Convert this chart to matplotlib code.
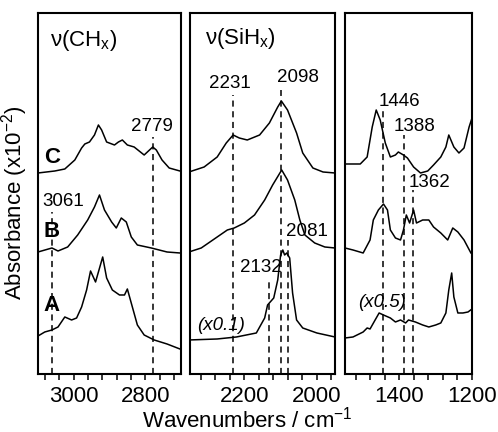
#!/usr/bin/env python
#
# IR absorbance spectra (CHx, SiHx and fingerprint regions) for samples A, B, C.
# Output: out.png

import numpy as np
import matplotlib.pyplot as plt
from matplotlib.ticker import FixedLocator, MultipleLocator

plt.rcParams['font.family'] = ['Liberation Sans', 'DejaVu Sans']
plt.rcParams['mathtext.fontset'] = 'custom'
plt.rcParams['mathtext.rm'] = 'Liberation Sans'
plt.rcParams['mathtext.it'] = 'Liberation Sans:italic'

# ---- nu(CHx) region : wavenumber / stacked absorbance (arb.)
ch_wn_C = [3100, 3053, 3025, 2997, 2978, 2969, 2956, 2942, 2931, 2922, 2908, 2886,
           2875, 2864, 2850, 2831, 2803, 2779, 2769, 2753, 2733, 2703]
ch_C = [201, 203, 205, 214, 226, 230, 232, 239, 249, 244, 232, 229,
        232, 234, 229, 227, 219, 227, 224, 214, 206, 203]
ch_wn_B = [3100, 3061, 3044, 3017, 2989, 2961, 2942, 2928, 2914, 2894, 2881, 2867,
           2853, 2839, 2822, 2783, 2739, 2703]
ch_B = [122, 126, 123, 127, 139, 154, 167, 179, 164, 152, 146, 156,
        152, 137, 129, 126, 122, 121]
ch_wn_A = [3100, 3081, 3061, 3044, 3025, 3006, 2992, 2978, 2964, 2953, 2939, 2919,
           2908, 2892, 2872, 2858, 2850, 2836, 2822, 2803, 2775, 2739, 2703]
ch_A = [38, 42, 44, 47, 57, 54, 56, 67, 84, 103, 92, 117,
        96, 84, 79, 79, 85, 67, 49, 39, 34, 30, 25]

# ---- nu(SiHx) region
si_wn_C = [2353, 2311, 2275, 2250, 2231, 2214, 2192, 2158, 2131, 2108, 2098, 2081,
           2056, 2039, 2011, 1983, 1950]
si_C = [202, 207, 217, 231, 239, 236, 234, 239, 251, 267, 273, 264,
        241, 221, 206, 202, 201]
si_wn_B = [2353, 2319, 2275, 2247, 2228, 2200, 2172, 2144, 2122, 2097, 2081, 2061,
           2047, 2033, 2006, 1978, 1950]
si_B = [122, 126, 137, 144, 146, 151, 159, 174, 189, 204, 194, 174,
        154, 139, 131, 127, 126]
si_wn_A = [2353, 2275, 2222, 2167, 2144, 2136, 2119, 2108, 2100, 2094, 2089, 2083,
           2075, 2067, 2056, 2039, 2000, 1950]
si_A = [34, 35, 37, 41, 56, 69, 76, 94, 119, 124, 119, 121,
        116, 81, 54, 46, 41, 37]

# ---- fingerprint region
fp_wn_C = [1550, 1508, 1489, 1475, 1464, 1453, 1439, 1425, 1411, 1403, 1389, 1378,
           1361, 1342, 1322, 1306, 1286, 1272, 1264, 1250, 1236, 1222, 1208, 1200]
fp_C = [210, 210, 217, 247, 264, 254, 231, 217, 219, 222, 219, 216,
        207, 201, 203, 209, 217, 227, 239, 227, 221, 226, 247, 256]
fp_wn_B = [1550, 1528, 1500, 1481, 1472, 1458, 1444, 1433, 1425, 1411, 1397, 1389,
           1381, 1372, 1361, 1353, 1336, 1319, 1306, 1286, 1267, 1253, 1239, 1222,
           1203, 1200]
fp_B = [126, 124, 121, 134, 154, 164, 170, 164, 144, 136, 134, 144,
        159, 151, 164, 151, 154, 154, 147, 141, 134, 146, 142, 134,
        121, 120]
fp_wn_A = [1550, 1528, 1500, 1489, 1481, 1467, 1456, 1444, 1425, 1411, 1397, 1383,
           1375, 1356, 1336, 1319, 1300, 1286, 1272, 1264, 1256, 1250, 1239, 1225,
           1211, 1200]
fp_A = [36, 37, 42, 46, 45, 54, 61, 59, 56, 52, 54, 51,
        54, 52, 49, 47, 49, 51, 61, 84, 101, 77, 61, 61,
        62, 65]

# ---- marked peaks: position and top of the dashed guide line
ch_peaks, ch_tops = [3061, 2779], [162, 237]
si_peaks, si_tops = [2231, 2098, 2132, 2081], [279, 284, 96, 134]
fp_peaks, fp_tops = [1446, 1388, 1362], [266, 239, 184]

FS_TICK = 16
FS_PEAK = 13.5


def style_axis(ax, xlim, majors):
	ax.set_xlim(*xlim)
	ax.set_ylim(0, 361)
	ax.xaxis.set_major_locator(FixedLocator(majors))
	ax.xaxis.set_minor_locator(MultipleLocator(40))
	ax.set_yticks([])
	ax.tick_params(axis='x', which='both', direction='out', length=4.5, width=1.1,
	               labelsize=FS_TICK, pad=4)
	for s in ax.spines.values():
		s.set_linewidth(1.5)


def draw_panel(ax, curves, peaks, tops):
	for wn, y in curves:
		ax.plot(wn, y, color='black', lw=1.1)
	for p, t in zip(peaks, tops):
		ax.vlines(p, 0, t, colors='black', linestyles=(0, (4, 3)), lw=1.1)


def main():
	fig = plt.figure(figsize=(4.98, 4.32), dpi=100)
	bottom, height = 0.1343, 0.8356
	ax1 = fig.add_axes([0.0763, bottom, 0.2871, height])
	ax2 = fig.add_axes([0.3815, bottom, 0.2912, height])
	ax3 = fig.add_axes([0.6928, bottom, 0.2550, height])

	# CHx stretching
	draw_panel(ax1, [(ch_wn_C, ch_C), (ch_wn_B, ch_B), (ch_wn_A, ch_A)], ch_peaks, ch_tops)
	style_axis(ax1, (3100, 2700), [3000, 2800])
	ax1.text(0.084, 0.925, r'ν(CH$_\mathregular{x}$)', transform=ax1.transAxes,
	         fontsize=16, ha='left', va='center')
	ax1.text(3088, 172, '3061', fontsize=FS_PEAK, ha='left', va='center')
	ax1.text(2781, 247, '2779', fontsize=FS_PEAK, ha='center', va='center')
	for lab, y in zip(['C', 'B', 'A'], [216, 142, 68]):
		ax1.text(3061, y, lab, fontsize=16, fontweight='bold', ha='center', va='center')

	# SiHx stretching
	draw_panel(ax2, [(si_wn_C, si_C), (si_wn_B, si_B), (si_wn_A, si_A)], si_peaks, si_tops)
	style_axis(ax2, (2350, 1950), [2200, 2000])
	ax2.text(0.103, 0.928, r'ν(SiH$_\mathregular{x}$)', transform=ax2.transAxes,
	         fontsize=16, ha='left', va='center')
	ax2.text(2240, 290, '2231', fontsize=FS_PEAK, ha='center', va='center')
	ax2.text(2110, 296, '2098', fontsize=FS_PEAK, ha='left', va='center')
	ax2.text(2084, 142, '2081', fontsize=FS_PEAK, ha='left', va='center')
	ax2.text(2097, 106, '2132', fontsize=FS_PEAK, ha='right', va='center')
	ax2.text(2331, 48, '(x0.1)', fontsize=FS_PEAK, style='italic', ha='left', va='center')

	# fingerprint region
	draw_panel(ax3, [(fp_wn_C, fp_C), (fp_wn_B, fp_B), (fp_wn_A, fp_A)], fp_peaks, fp_tops)
	style_axis(ax3, (1550, 1200), [1400, 1200])
	ax3.text(1458, 272, '1446', fontsize=FS_PEAK, ha='left', va='center')
	ax3.text(1417, 247, '1388', fontsize=FS_PEAK, ha='left', va='center')
	ax3.text(1375, 191, '1362', fontsize=FS_PEAK, ha='left', va='center')
	ax3.text(1514, 71, '(x0.5)', fontsize=FS_PEAK, style='italic', ha='left', va='center')

	# shared axis labels
	fig.text(0.03, 0.53, r'Absorbance (x10$^\mathregular{-2}$)', rotation=90,
	         fontsize=16, ha='center', va='center')
	fig.text(0.496, 0.028, r'Wavenumbers / cm$^\mathregular{-1}$',
	         fontsize=16, ha='center', va='center')

	fig.savefig('out.png', dpi=100)


if __name__ == "__main__":
	main()
